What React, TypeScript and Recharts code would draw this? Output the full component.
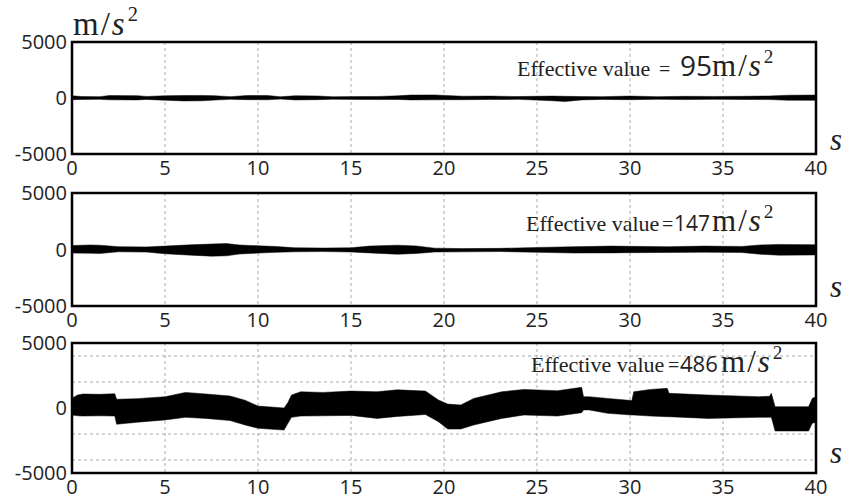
import React from 'react';
import {
  ComposedChart,
  Area,
  XAxis,
  YAxis,
  CartesianGrid,
  ReferenceArea,
} from 'recharts';

// shared axes
const X_TICKS = [0, 5, 10, 15, 20, 25, 30, 35, 40];
const MINOR_X = [2.5, 7.5, 12.5, 17.5, 22.5, 27.5, 32.5, 37.5];
const Y_TICKS = [-5000, 0, 5000];
const MINOR_Y = [-2500, 2500];
const GRID_Y = [-4000, -2000, 2000, 4000];

// panel 1: envelope of the signal (m/s^2)
const P1_T = [0, 0.5, 1.5, 2, 3.5, 4, 5, 6, 7, 7.7, 8.5, 9.4, 10.5, 11.2, 12, 13.2, 14, 15.5, 16.5, 17.5, 18.2, 19.5, 21, 22.5, 24, 25.8, 26.5, 27.4, 28.5, 30, 31.5, 33, 34.5, 36, 37.5, 38.5, 40];
const P1_HI = [200, 130, 120, 220, 210, 140, 200, 220, 230, 200, 120, 220, 230, 110, 200, 180, 110, 130, 140, 190, 260, 270, 160, 170, 130, 170, 150, 130, 120, 170, 120, 150, 140, 150, 180, 250, 260];
const P1_LO = [-150, -130, -120, -160, -170, -130, -200, -260, -250, -180, -120, -150, -160, -100, -170, -150, -110, -130, -140, -130, -170, -160, -150, -130, -120, -240, -310, -170, -130, -150, -120, -140, -120, -130, -140, -200, -210];

// panel 2
const P2_T = [0, 1, 1.5, 2.5, 4, 5, 6.4, 7.5, 8.3, 9, 10, 11, 12, 13.5, 15, 16, 17.5, 18.5, 19.5, 21, 23, 25, 27, 29, 30, 32, 34, 36, 37, 38, 40];
const P2_HI = [350, 400, 380, 250, 230, 300, 420, 480, 530, 400, 330, 260, 150, 130, 150, 300, 380, 320, 120, 80, 100, 180, 250, 300, 280, 250, 300, 270, 400, 450, 420];
const P2_LO = [-320, -330, -350, -200, -230, -380, -500, -590, -560, -400, -320, -250, -200, -180, -220, -300, -420, -350, -220, -210, -180, -250, -310, -300, -280, -260, -240, -260, -420, -500, -480];

// panel 3
const P3_T = [0, 0.3, 0.6, 1.5, 2.3, 2.4, 3.5, 5, 6.1, 7.2, 8.5, 9.3, 10, 11.4, 11.6, 11.8, 12.3, 13.5, 15, 16.4, 17.5, 19, 19.7, 20.2, 20.9, 21.6, 23.1, 24.3, 26.1, 27.4, 27.5, 27.8, 28.8, 30.1, 30.2, 31.1, 32, 32.1, 34.2, 36.9, 37.5, 37.6, 37.8, 39.6, 39.8, 40];
const P3_HI = [750, 1000, 1080, 1050, 1100, 670, 720, 870, 1200, 1080, 920, 600, 150, 0, 400, 1000, 1250, 1200, 1300, 1250, 1400, 1300, 620, 300, 230, 740, 1250, 1430, 1330, 1590, 870, 870, 740, 570, 1250, 1430, 1510, 1130, 1000, 870, 900, 1130, 100, 100, 740, 870];
const P3_LO = [-540, -600, -620, -600, -620, -1250, -1100, -920, -720, -800, -970, -1300, -1560, -1700, -1200, -720, -620, -600, -570, -800, -650, -500, -1050, -1620, -1620, -1310, -800, -540, -620, -360, -150, -150, -410, -540, -540, -620, -670, -670, -800, -720, -720, -720, -1770, -1770, -1170, -1100];

const toBand = (t: number[], lo: number[], hi: number[]) =>
  t.map((x, i) => ({ t: x, band: [lo[i], hi[i]] }));

const tickStyle = { fontFamily: 'Open Sans', fontSize: 20, fill: '#222' };
const SERIF = 'Liberation Serif';
const INK = '#222';

type PanelProps = {
  data: { t: number; band: number[] }[];
  plotTop: number;
  plotHeight: number;
  hGrid?: boolean;
};

const Panel: React.FC<PanelProps> = ({ data, plotTop, plotHeight, hGrid }) => (
  <div style={{ position: 'absolute', left: 0, top: plotTop - 20 }}>
    <ComposedChart
      width={854}
      height={plotHeight + 55}
      data={data}
      margin={{ top: 20, right: 38, left: 0, bottom: 0 }}
    >
      <CartesianGrid
        stroke="#aaa"
        strokeDasharray="3 3"
        horizontal={!!hGrid}
        horizontalValues={GRID_Y}
      />
      <XAxis
        dataKey="t"
        type="number"
        domain={[0, 40]}
        ticks={X_TICKS}
        height={35}
        tick={tickStyle}
        tickLine={false}
        axisLine={false}
        tickSize={5}
        tickMargin={2}
        interval={0}
      />
      <XAxis
        xAxisId="minorTop"
        orientation="top"
        mirror
        type="number"
        domain={[0, 40]}
        ticks={MINOR_X}
        tick={false}
        tickSize={4}
        axisLine={false}
        tickLine={{ stroke: '#000' }}
      />
      <XAxis
        xAxisId="minorBottom"
        orientation="bottom"
        mirror
        type="number"
        domain={[0, 40]}
        ticks={MINOR_X}
        tick={false}
        tickSize={4}
        axisLine={false}
        tickLine={{ stroke: '#000' }}
      />
      <YAxis
        type="number"
        domain={[-5000, 5000]}
        ticks={Y_TICKS}
        width={72}
        tick={tickStyle}
        tickLine={false}
        axisLine={false}
        tickSize={3}
        tickMargin={2}
        interval={0}
      />
      <YAxis
        yAxisId="minorLeft"
        orientation="left"
        mirror
        type="number"
        domain={[-5000, 5000]}
        ticks={MINOR_Y}
        tick={false}
        tickSize={4}
        axisLine={false}
        tickLine={{ stroke: '#000' }}
      />
      <Area
        dataKey="band"
        type="linear"
        stroke="#000"
        strokeWidth={0.5}
        fill="#000"
        fillOpacity={1}
        dot={false}
        activeDot={false}
        isAnimationActive={false}
      />
      <ReferenceArea
        x1={0}
        x2={40}
        y1={-5000}
        y2={5000}
        fill="none"
        fillOpacity={0}
        stroke="#000"
        strokeWidth={2.5}
      />
    </ComposedChart>
  </div>
);

// m/s² as tspans: upright m, italic s, superscript 2
const unitSpans = (x: number, size: number) => [
  <tspan key="m" x={x} fontFamily={SERIF} fontSize={size}>m</tspan>,
  <tspan key="sl" dx={2} fontFamily={SERIF} fontSize={size}>/</tspan>,
  <tspan key="s" dx={2} fontFamily={SERIF} fontSize={size} fontStyle="italic">s</tspan>,
  <tspan key="two" dx={3} dy={-size * 0.42} fontFamily={SERIF} fontSize={size * 0.62}>2</tspan>,
];

type EffProps = {
  x: number;
  y: number;
  eqX: number;
  numX: number;
  num: string;
  numSize: number;
  unitX: number;
};

const Effective: React.FC<EffProps> = (p) => (
  <text y={p.y} fill={INK}>
    <tspan x={p.x} fontFamily={SERIF} fontSize={22}>
      Effective value
    </tspan>
    <tspan x={p.eqX} fontFamily={SERIF} fontSize={20}>=</tspan>
    <tspan x={p.numX} fontFamily="Open Sans" fontSize={p.numSize}>
      {p.num}
    </tspan>
    {unitSpans(p.unitX, 31)}
  </text>
);

export default function App() {
  return (
    <div style={{ position: 'absolute', left: 0, top: 0, width: 854, height: 501, background: '#fff' }}>
      <Panel data={toBand(P1_T, P1_LO, P1_HI)} plotTop={42} plotHeight={112} />
      <Panel data={toBand(P2_T, P2_LO, P2_HI)} plotTop={193} plotHeight={113} />
      <Panel data={toBand(P3_T, P3_LO, P3_HI)} plotTop={343} plotHeight={130} hGrid />
      <svg
        width={854}
        height={501}
        style={{ position: 'absolute', left: 0, top: 0, pointerEvents: 'none' }}
      >
        <text y={35} fill={INK}>{unitSpans(73, 33)}</text>
        <Effective x={517} y={76} eqX={659} numX={680} num="95" numSize={28} unitX={712} />
        <Effective x={526} y={231} eqX={662} numX={674} num="147" numSize={21} unitX={712} />
        <Effective x={531} y={372} eqX={668} numX={680} num="486" numSize={22} unitX={721} />
        {[150, 297, 463].map((b) => (
          <text key={b} x={830} y={b} fontFamily={SERIF} fontStyle="italic" fontSize={31} fill={INK}>
            s
          </text>
        ))}
      </svg>
    </div>
  );
}
